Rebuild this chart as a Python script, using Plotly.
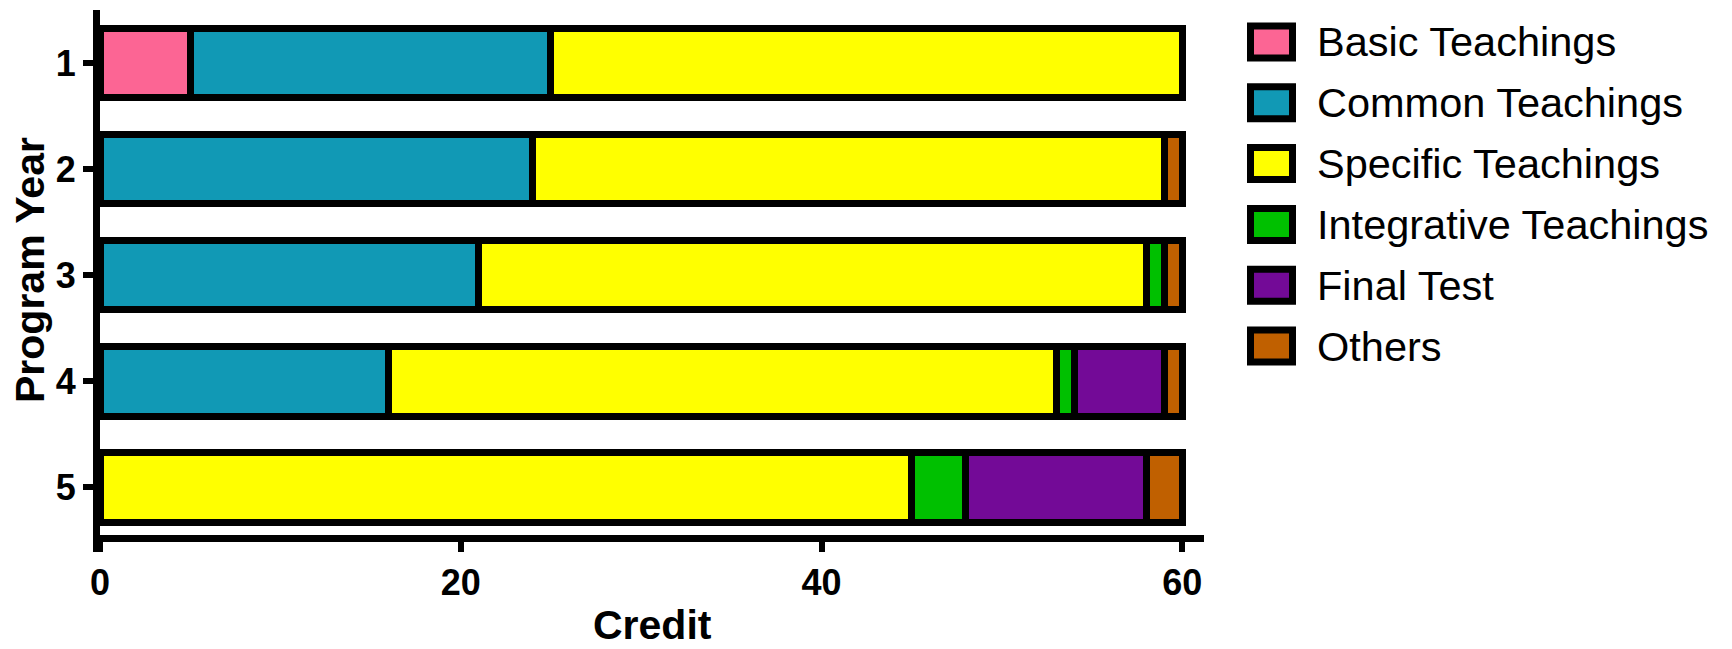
import plotly.graph_objects as go

years = ["1", "2", "3", "4", "5"]
series_names = ["Basic Teachings", "Common Teachings", "Specific Teachings",
                "Integrative Teachings", "Final Test", "Others"]
basic = [5, None, None, None, None]
common = [20, 24, 21, 16, None]
specific = [35, 35, 37, 37, 45]
integrative = [None, None, 1, 1, 3]
final_test = [None, None, None, 5, 10]
others = [None, 1, 1, 1, 2]
x_ticks = [0, 20, 40, 60]

colors = ["#FC6594", "#1199B5", "#FFFF00", "#00C000", "#730A97", "#C06000"]
values = [basic, common, specific, integrative, final_test, others]

# page body has an 8px margin; compensate so the plot lands on target pixels
OFF = 8
W, H = 1732 - OFF, 649 - OFF
PX0, PY0, PX1, PY1 = 100, 10, 1204, 552   # target plot-area pixels
L, T = PX0 - OFF, PY0 - OFF
PW, PH = PX1 - PX0, PY1 - PY0
R, B = W - L - PW, H - T - PH

FONT = "Liberation Sans, Arial, Helvetica"

fig = go.Figure()
for name, vals, col in zip(series_names, values, colors):
    fig.add_trace(go.Bar(
        y=years, x=vals, name=name, orientation="h",
        marker=dict(color=col, line=dict(color="black", width=7)),
        showlegend=False,
    ))

def px_x(p):
    return (p - PX0) / PW

def px_y(p):
    return (PY1 - p) / PH

shapes = []
annotations = []
for i, (name, col) in enumerate(zip(series_names, colors)):
    cy = 42 + i * 60.8
    shapes.append(dict(type="rect", xref="paper", yref="paper",
                       x0=px_x(1250.5), x1=px_x(1292.5),
                       y0=px_y(cy + 16), y1=px_y(cy - 16),
                       fillcolor=col, line=dict(color="black", width=7)))
    annotations.append(dict(text=name, xref="paper", yref="paper",
                            x=px_x(1315), y=px_y(cy), xanchor="left", yanchor="middle",
                            showarrow=False,
                            font=dict(family=FONT, size=41.5, color="black")))

annotations.append(dict(text="<b>Credit</b>", xref="paper", yref="paper",
                        x=px_x(652), y=px_y(625), xanchor="center", yanchor="middle",
                        showarrow=False, borderpad=0,
                        font=dict(family=FONT, size=41, color="black")))
annotations.append(dict(text="<b>Program Year</b>", xref="paper", yref="paper",
                        x=px_x(30), y=px_y(270), xanchor="center", yanchor="middle",
                        textangle=-90, showarrow=False, borderpad=0,
                        font=dict(family=FONT, size=41, color="black")))

fig.update_layout(
    width=W, height=H,
    margin=dict(l=L, r=R, t=T, b=B, pad=0),
    barmode="stack", bargap=0.34,
    plot_bgcolor="white", paper_bgcolor="white",
    font=dict(family=FONT, color="black"),
    shapes=shapes, annotations=annotations,
    xaxis=dict(
        range=[0, 61.2], tickvals=x_ticks, showgrid=False, zeroline=False,
        showline=True, linecolor="black", linewidth=7,
        ticks="outside", ticklen=10, tickwidth=6, tickcolor="black",
        tickfont=dict(size=36, family=FONT, weight="bold"),
        anchor="free", position=(PY1 - 537.5) / PH, automargin=False,
    ),
    yaxis=dict(
        type="category", range=[4.613, -0.5], showgrid=False, zeroline=False,
        showline=True, linecolor="black", linewidth=7,
        ticks="outside", ticklen=10, tickwidth=6, tickcolor="black",
        tickfont=dict(size=36, family=FONT, weight="bold"),
        automargin=False,
    ),
)

fig.write_html("out.html")
